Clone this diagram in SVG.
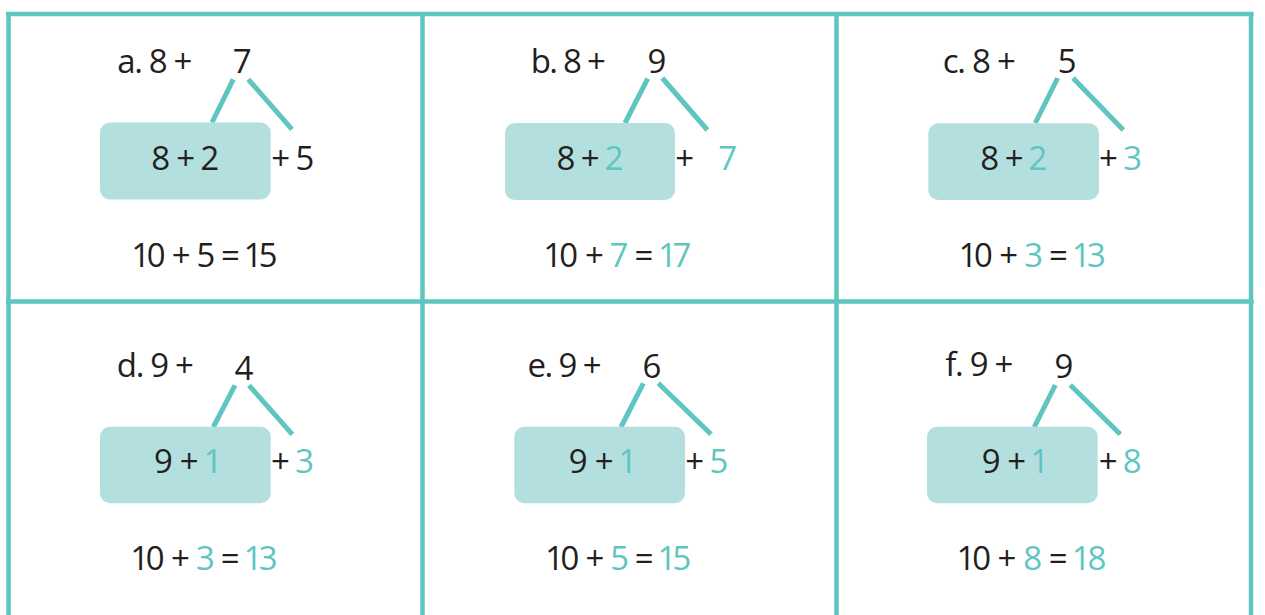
<svg xmlns="http://www.w3.org/2000/svg" width="1265" height="615" viewBox="0 0 1265 615">
<style>
.grid{stroke:#5fc5c1;stroke-width:4.5;fill:none}
.box{fill:#b3dfde}
.t{font-family:"Open Sans","Noto Sans","Liberation Sans",sans-serif;font-size:33px;fill:#231f20;text-anchor:middle;font-variant-numeric:proportional-nums;font-feature-settings:"pnum" 1}
.c{fill:#5fc5c1}
.con{stroke:#5fc5c1;stroke-width:5;fill:none;stroke-linecap:butt}
</style>
<rect width="1265" height="615" fill="#ffffff"/>
<g id="grid" class="grid">
<line x1="6" y1="14" x2="1253.5" y2="14"/>
<line x1="6" y1="301.5" x2="1253.5" y2="301.5"/>
<line x1="8.5" y1="12" x2="8.5" y2="615"/>
<line x1="422.5" y1="12" x2="422.5" y2="615"/>
<line x1="836.5" y1="12" x2="836.5" y2="615"/>
<line x1="1251" y1="12" x2="1251" y2="615"/>
</g>
<g id="connectors" class="con">
<line x1="233.3" y1="79.3" x2="212" y2="122.5"/>
<line x1="248.3" y1="79.3" x2="292" y2="129.3"/>
<line x1="647.7" y1="78.7" x2="625" y2="123"/>
<line x1="662.3" y1="78" x2="707.3" y2="130"/>
<line x1="1057.7" y1="78" x2="1035.3" y2="123"/>
<line x1="1073" y1="78" x2="1123.3" y2="130"/>
<line x1="235" y1="385.3" x2="213.3" y2="427"/>
<line x1="249" y1="385.3" x2="292.3" y2="434.3"/>
<line x1="643.3" y1="383.3" x2="621" y2="427"/>
<line x1="658.3" y1="383.3" x2="711" y2="434.3"/>
<line x1="1055.3" y1="385" x2="1034.3" y2="427"/>
<line x1="1070.3" y1="385" x2="1120.3" y2="434.3"/>
</g>
<g id="cell-a">
<text class="t" x="154.8" y="72.7" textLength="75" lengthAdjust="spacing">a. 8 +</text>
<text class="t" x="242.5" y="73">7</text>
<rect class="box" x="100" y="122.5" width="170.7" height="77" rx="10"/>
<text class="t" x="185" y="170" textLength="68" lengthAdjust="spacing">8 + 2</text>
<text class="t" x="292.7" y="170" textLength="43" lengthAdjust="spacing">+ 5</text>
<text class="t" x="205.5" y="266.7" textLength="144" lengthAdjust="spacing">10 + 5 = 15</text>
</g>
<g id="cell-b">
<text class="t" x="568.3" y="72.7" textLength="75" lengthAdjust="spacing">b. 8 +</text>
<text class="t" x="657" y="73">9</text>
<rect class="box" x="505" y="123" width="170" height="77" rx="10"/>
<text class="t" x="589.7" y="170" textLength="67" lengthAdjust="spacing">8 + <tspan class="c">2</tspan></text>
<text class="t" x="684.7" y="170">+</text>
<text class="t c" x="728" y="170">7</text>
<text class="t" x="618" y="266.7" textLength="145" lengthAdjust="spacing">10 + <tspan class="c">7</tspan> = <tspan class="c">17</tspan></text>
</g>
<g id="cell-c">
<text class="t" x="979.3" y="72.7" textLength="73" lengthAdjust="spacing">c. 8 +</text>
<text class="t" x="1067" y="73">5</text>
<rect class="box" x="928.3" y="123.3" width="170.7" height="76.7" rx="10"/>
<text class="t" x="1013.5" y="170" textLength="67" lengthAdjust="spacing">8 + <tspan class="c">2</tspan></text>
<text class="t" x="1120.5" y="170" textLength="43" lengthAdjust="spacing">+ <tspan class="c">3</tspan></text>
<text class="t" x="1033.3" y="266.7" textLength="145" lengthAdjust="spacing">10 + <tspan class="c">3</tspan> = <tspan class="c">13</tspan></text>
</g>
<g id="cell-d">
<text class="t" x="155.3" y="376.7" textLength="77" lengthAdjust="spacing">d. 9 +</text>
<text class="t" x="244" y="380">4</text>
<rect class="box" x="100" y="426.7" width="170.7" height="76.6" rx="10"/>
<text class="t" x="187" y="473.3" textLength="66" lengthAdjust="spacing">9 + <tspan class="c">1</tspan></text>
<text class="t" x="292.5" y="473.3" textLength="43" lengthAdjust="spacing">+ <tspan class="c">3</tspan></text>
<text class="t" x="205" y="570" textLength="145" lengthAdjust="spacing">10 + <tspan class="c">3</tspan> = <tspan class="c">13</tspan></text>
</g>
<g id="cell-e">
<text class="t" x="564.5" y="376.7" textLength="74" lengthAdjust="spacing">e. 9 +</text>
<text class="t" x="652" y="378.3">6</text>
<rect class="box" x="514.3" y="426.7" width="170.7" height="76.6" rx="10"/>
<text class="t" x="601.8" y="473.3" textLength="66" lengthAdjust="spacing">9 + <tspan class="c">1</tspan></text>
<text class="t" x="706.7" y="473.3" textLength="43" lengthAdjust="spacing">+ <tspan class="c">5</tspan></text>
<text class="t" x="619.3" y="570" textLength="144" lengthAdjust="spacing">10 + <tspan class="c">5</tspan> = <tspan class="c">15</tspan></text>
</g>
<g id="cell-f">
<text class="t" x="979.3" y="376" textLength="68" lengthAdjust="spacing">f. 9 +</text>
<text class="t" x="1064" y="378.3">9</text>
<rect class="box" x="927" y="426.7" width="170.7" height="76.6" rx="10"/>
<text class="t" x="1014.3" y="473.3" textLength="65" lengthAdjust="spacing">9 + <tspan class="c">1</tspan></text>
<text class="t" x="1120.3" y="473.3" textLength="43" lengthAdjust="spacing">+ <tspan class="c">8</tspan></text>
<text class="t" x="1032.7" y="570" textLength="148" lengthAdjust="spacing">10 + <tspan class="c">8</tspan> = <tspan class="c">18</tspan></text>
</g>
</svg>
